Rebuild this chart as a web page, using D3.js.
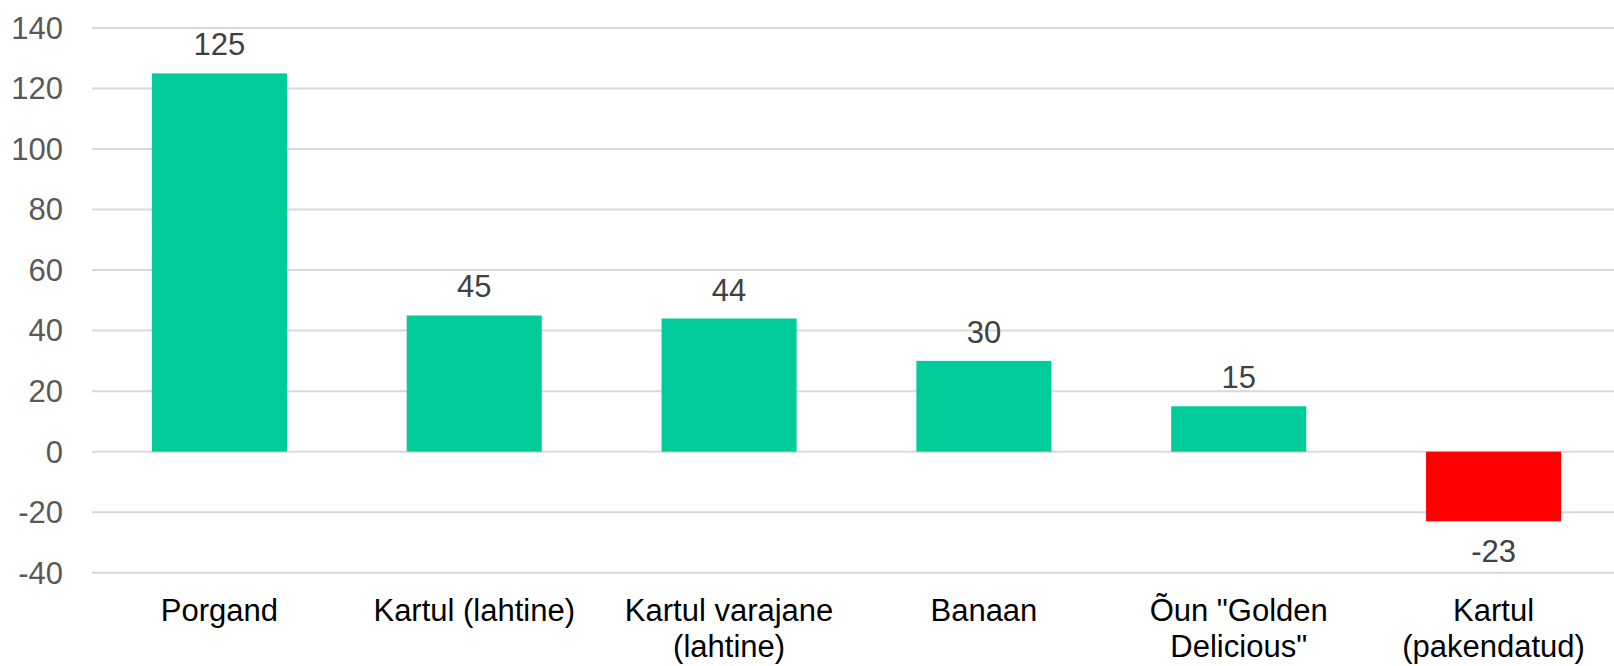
<!DOCTYPE html>
<html>
<head>
<meta charset="utf-8">
<script src="https://cdn.jsdelivr.net/npm/d3@7"></script>
<style>
  html, body { margin: 0; padding: 0; background: #fff; }
  svg { display: block; font-family: "Liberation Sans", Arial, sans-serif; }
</style>
</head>
<body>
<svg id="chart"></svg>
<script>
const categories = [
  ['Porgand'],
  ['Kartul (lahtine)'],
  ['Kartul varajane', '(lahtine)'],
  ['Banaan'],
  ['Õun "Golden', 'Delicious"'],
  ['Kartul', '(pakendatud)']
];
const values = [125, 45, 44, 30, 15, -23];
const yTicks = [-40, -20, 0, 20, 40, 60, 80, 100, 120, 140];

const width = 1614;
const height = 666;
const svg = d3.select('#chart').attr('width', width).attr('height', height);

const x = d3.scaleBand().domain(d3.range(values.length)).range([92, 1621]).paddingInner(0.47).paddingOuter(0.235);
const y = d3.scaleLinear().domain([-40, 140]).range([572.7, 28]);

// gridlines
svg.append('g')
  .selectAll('line')
  .data(yTicks)
  .join('line')
  .attr('x1', 92)
  .attr('x2', width)
  .attr('y1', (d) => y(d))
  .attr('y2', (d) => y(d))
  .attr('stroke', '#d9d9d9')
  .attr('stroke-width', 2);

// y tick labels
svg.append('g')
  .selectAll('text')
  .data(yTicks)
  .join('text')
  .attr('x', 63)
  .attr('y', (d) => y(d))
  .attr('dy', '0.35em')
  .attr('text-anchor', 'end')
  .attr('fill', '#595959')
  .attr('font-size', 31)
  .text((d) => d);

// bars
svg.append('g')
  .selectAll('rect')
  .data(values)
  .join('rect')
  .attr('x', (d, i) => x(i))
  .attr('width', x.bandwidth())
  .attr('y', (d) => y(Math.max(0, d)))
  .attr('height', (d) => Math.abs(y(d) - y(0)))
  .attr('fill', (d) => (d < 0 ? '#ff0000' : '#00cc99'));

// data labels
svg.append('g')
  .selectAll('text')
  .data(values)
  .join('text')
  .attr('x', (d, i) => x(i) + x.bandwidth() / 2)
  .attr('y', (d) => (d < 0 ? y(d) + 41 : y(d) - 18))
  .attr('text-anchor', 'middle')
  .attr('fill', '#404040')
  .attr('font-size', 31)
  .text((d) => d);

// category labels
const cat = svg.append('g')
  .selectAll('text')
  .data(categories)
  .join('text')
  .attr('x', (d, i) => x(i) + x.bandwidth() / 2)
  .attr('y', 621)
  .attr('text-anchor', 'middle')
  .attr('fill', '#000')
  .attr('font-size', 31);

cat.selectAll('tspan')
  .data((d) => d)
  .join('tspan')
  .attr('x', function () { return d3.select(this.parentNode).attr('x'); })
  .attr('dy', (d, i) => (i === 0 ? 0 : 36))
  .text((d) => d);
</script>
</body>
</html>
